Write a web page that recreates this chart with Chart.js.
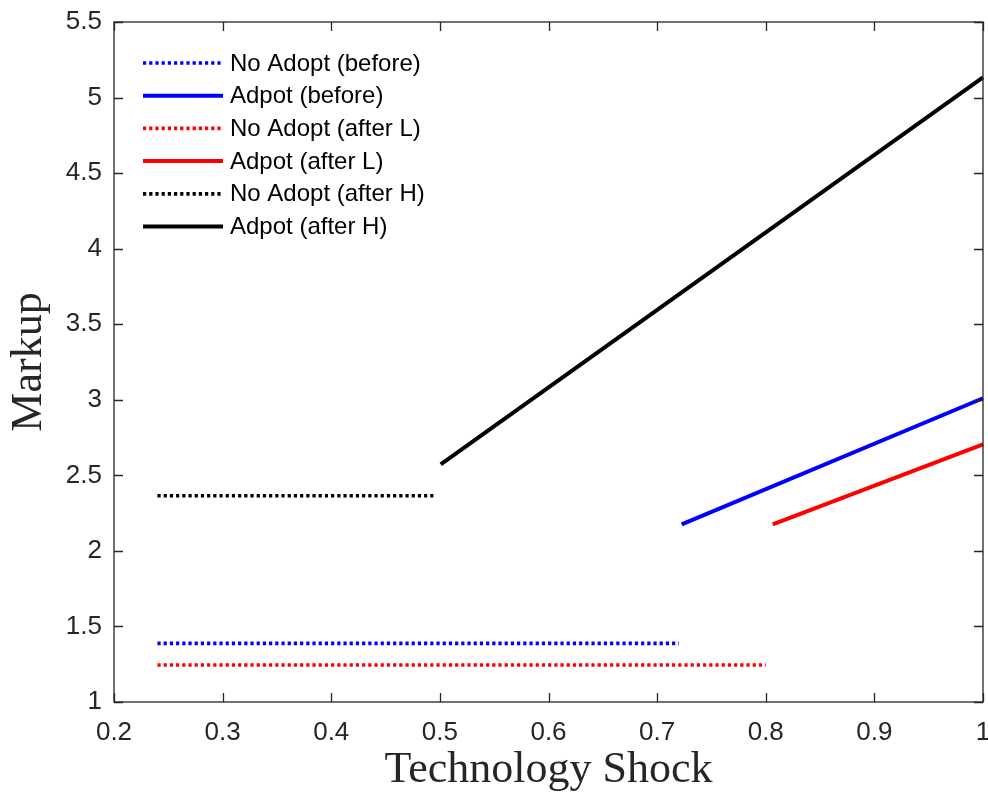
<!DOCTYPE html>
<html>
<head>
<meta charset="utf-8">
<script src="https://cdn.jsdelivr.net/npm/chart.js@4"></script>
<style>
  html, body { margin: 0; padding: 0; background: #ffffff; }
  #wrap { width: 988px; height: 792px; position: relative; }
</style>
</head>
<body>
<div id="wrap"><canvas id="c" width="988" height="792"></canvas></div>
<script>
// ---- Data ----
const seriesLabels = [
  'No Adopt (before)', 'Adpot (before)',
  'No Adopt (after L)', 'Adpot (after L)',
  'No Adopt (after H)', 'Adpot (after H)'
];
const xNoAdoptBefore = [0.24, 0.72];
const yNoAdoptBefore = [1.388, 1.388];
const xAdoptBefore   = [0.7226, 1.0];
const yAdoptBefore   = [2.176, 3.010];
const xNoAdoptAfterL = [0.24, 0.80];
const yNoAdoptAfterL = [1.245, 1.245];
const xAdoptAfterL   = [0.8064, 1.0];
const yAdoptAfterL   = [2.176, 2.705];
const xNoAdoptAfterH = [0.24, 0.494];
const yNoAdoptAfterH = [2.365, 2.365];
const xAdoptAfterH   = [0.5008, 1.0];
const yAdoptAfterH   = [2.573, 5.134];

const xTicks = [0.2, 0.3, 0.4, 0.5, 0.6, 0.7, 0.8, 0.9, 1];
const yTicks = [1, 1.5, 2, 2.5, 3, 3.5, 4, 4.5, 5, 5.5];

const pts = (xs, ys) => xs.map((x, i) => ({ x: x, y: ys[i] }));

const AXIS_COLOR = '#262626';
const DOT = [3.2, 3];

function ds(label, xs, ys, color, dotted) {
  return {
    label: label,
    data: pts(xs, ys),
    borderColor: color,
    backgroundColor: color,
    borderWidth: dotted ? 3.7 : 4,
    borderDash: dotted ? DOT : [],
    borderCapStyle: 'butt',
    pointRadius: 0,
    pointHoverRadius: 0,
    tension: 0,
    fill: false,
    clip: false
  };
}

const datasets = [
  ds(seriesLabels[0], xNoAdoptBefore, yNoAdoptBefore, '#0000ff', true),
  ds(seriesLabels[1], xAdoptBefore,   yAdoptBefore,   '#0000ff', false),
  ds(seriesLabels[2], xNoAdoptAfterL, yNoAdoptAfterL, '#ff0000', true),
  ds(seriesLabels[3], xAdoptAfterL,   yAdoptAfterL,   '#ff0000', false),
  ds(seriesLabels[4], xNoAdoptAfterH, yNoAdoptAfterH, '#000000', true),
  ds(seriesLabels[5], xAdoptAfterH,   yAdoptAfterH,   '#000000', false)
];

// Box + inward ticks (MATLAB style)
const boxPlugin = {
  id: 'boxPlugin',
  afterDraw(chart) {
    const { ctx, chartArea: a, scales } = chart;
    const xs = scales.x, ys = scales.y;
    const tl = 9;
    ctx.save();
    ctx.strokeStyle = AXIS_COLOR;
    ctx.lineWidth = 1.3;
    ctx.beginPath();
    xTicks.forEach(v => {
      const px = Math.round(xs.getPixelForValue(v)) + 0.5;
      ctx.moveTo(px, a.bottom); ctx.lineTo(px, a.bottom - tl);
      ctx.moveTo(px, a.top); ctx.lineTo(px, a.top + tl);
    });
    yTicks.forEach(v => {
      const py = Math.round(ys.getPixelForValue(v)) + 0.5;
      ctx.moveTo(a.left, py); ctx.lineTo(a.left + tl, py);
      ctx.moveTo(a.right, py); ctx.lineTo(a.right - tl, py);
    });
    ctx.stroke();
    ctx.strokeRect(a.left, a.top, a.right - a.left, a.bottom - a.top);
    ctx.restore();
  }
};

// Legend inside the plot area, top-left, no box
const legendPlugin = {
  id: 'insideLegend',
  afterDraw(chart) {
    const { ctx } = chart;
    const x0 = 143, x1 = 223, tx = 230;
    const y0 = 63, dy = 32.7;
    ctx.save();
    ctx.font = '24px "Liberation Sans", Arial, sans-serif';
    ctx.textBaseline = 'middle';
    ctx.textAlign = 'left';
    chart.data.datasets.forEach((d, i) => {
      const y = y0 + i * dy;
      ctx.beginPath();
      ctx.strokeStyle = d.borderColor;
      ctx.lineWidth = d.borderWidth;
      ctx.lineCap = 'butt';
      ctx.setLineDash(d.borderDash || []);
      ctx.moveTo(x0, y);
      ctx.lineTo(x1, y);
      ctx.stroke();
      ctx.setLineDash([]);
      ctx.fillStyle = '#000000';
      ctx.fillText(d.label, tx, y + 1);
    });
    ctx.restore();
  }
};

new Chart(document.getElementById('c'), {
  type: 'line',
  data: { datasets: datasets },
  options: {
    responsive: false,
    animation: false,
    devicePixelRatio: 1,
    layout: { padding: { top: 22, right: 5, left: 0, bottom: 0 } },
    plugins: {
      legend: { display: false },
      tooltip: { enabled: false },
      title: { display: false }
    },
    scales: {
      x: {
        type: 'linear',
        min: 0.2,
        max: 1,
        afterBuildTicks(scale) { scale.ticks = xTicks.map(v => ({ value: v })); },
        afterFit(scale) {
          scale.height = 90;
          scale.paddingLeft = 0; scale.paddingRight = 0;
          scale.paddingTop = 0; scale.paddingBottom = 0;
        },
        grid: { display: false, drawTicks: false },
        border: { display: false },
        ticks: {
          padding: 15,
          color: AXIS_COLOR,
          font: { family: '"Liberation Sans", Arial, sans-serif', size: 26 },
          maxRotation: 0,
          autoSkip: false,
          callback: v => String(v)
        },
        title: {
          display: true,
          text: 'Technology Shock',
          color: AXIS_COLOR,
          font: { family: '"Liberation Serif", "Times New Roman", serif', size: 44, lineHeight: 1 },
          padding: { top: 0, bottom: 0 }
        }
      },
      y: {
        type: 'linear',
        min: 1,
        max: 5.5,
        afterBuildTicks(scale) { scale.ticks = yTicks.map(v => ({ value: v })); },
        afterFit(scale) {
          scale.width = 114;
          scale.paddingLeft = 0; scale.paddingRight = 0;
          scale.paddingTop = 0; scale.paddingBottom = 0;
        },
        grid: { display: false, drawTicks: false },
        border: { display: false },
        ticks: {
          padding: 12,
          color: AXIS_COLOR,
          font: { family: '"Liberation Sans", Arial, sans-serif', size: 26 },
          autoSkip: false,
          callback: v => String(v)
        },
        title: {
          display: true,
          text: 'Markup',
          color: AXIS_COLOR,
          font: { family: '"Liberation Serif", "Times New Roman", serif', size: 44, lineHeight: 1.2 },
          padding: { top: 3, bottom: 0 }
        }
      }
    }
  },
  plugins: [boxPlugin, legendPlugin]
});
</script>
</body>
</html>
